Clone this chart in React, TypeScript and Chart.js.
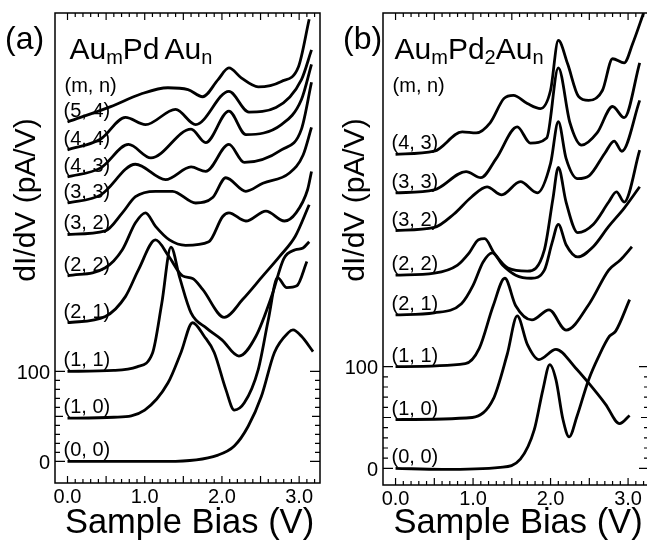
import React, { useEffect, useRef } from "react";
import { Chart, registerables } from "chart.js";
Chart.register(...registerables);

// ---------- Panel (a): Au_m Pd Au_n ----------
const a00V = [0, 0.6, 1.3, 1.95, 2.16, 2.34, 2.51, 2.68, 2.86, 2.92, 3.03, 3.18];
const a00Y = [0, 0, 0, 7, 17, 39, 72, 121, 143, 146, 139, 122];
const a10V = [0, 0.6, 1.0, 1.3, 1.47, 1.62, 1.77, 1.9, 2.05, 2.16, 2.29, 2.47, 2.6, 2.72, 2.84, 2.97, 3.1];
const a10Y = [48, 49, 57, 87, 121, 154, 139, 121, 80, 57, 65, 102, 157, 204, 193, 195, 222];
const a11V = [0, 0.6, 0.9, 1.1, 1.22, 1.34, 1.45, 1.6, 1.8, 2.0, 2.22, 2.44, 2.65, 2.8, 2.95, 3.05, 3.13];
const a11Y = [100, 101, 105, 120, 175, 238, 205, 165, 148, 135, 117, 139, 185, 225, 235, 237, 244];
const a21V = [0, 0.49, 0.75, 0.92, 1.14, 1.31, 1.49, 1.62, 1.75, 2.03, 2.27, 2.53, 2.75, 2.95, 3.13];
const a21Y = [154, 161, 183, 213, 246, 228, 206, 203, 191, 160, 180, 206, 228, 250, 285];
const a22V = [0, 0.49, 0.71, 0.88, 1.01, 1.14, 1.32, 1.53, 1.83, 2.01, 2.09, 2.31, 2.57, 2.81, 2.96, 3.11, 3.16];
const a22Y = [206, 215, 235, 265, 276, 261, 246, 240, 244, 272, 276, 267, 278, 267, 276, 302, 322];
const a32V = [0, 0.49, 0.71, 0.88, 1.14, 1.36, 1.66, 1.88, 2.05, 2.31, 2.53, 2.87, 3.05, 3.16];
const a32Y = [252, 256, 276, 294, 300, 300, 287, 293, 315, 300, 309, 320, 340, 371];
const a33V = [0, 0.43, 0.88, 1.27, 1.6, 1.79, 2.09, 2.29, 2.77, 3.03, 3.16];
const a33Y = [287, 296, 330, 313, 327, 322, 352, 332, 346, 369, 421];
const a43V = [0, 0.43, 0.79, 1.08, 1.6, 1.79, 2.09, 2.31, 2.77, 3.03, 3.16];
const a43Y = [316, 326, 352, 337, 369, 354, 389, 363, 374, 402, 441];
const a44V = [0, 0.43, 0.75, 1.01, 1.4, 1.66, 2.09, 2.35, 2.7, 3.03, 3.16];
const a44Y = [346, 358, 382, 374, 391, 374, 411, 388, 393, 424, 457];
const a54V = [0, 0.56, 0.95, 1.3, 1.56, 1.75, 1.95, 2.09, 2.25, 2.47, 2.77, 2.99, 3.13];
const a54Y = [377, 394, 408, 415, 413, 405, 424, 437, 426, 416, 422, 438, 491];
const labelsA = ["(0, 0)", "(1, 0)", "(1, 1)", "(2, 1)", "(2, 2)", "(3, 2)", "(3, 3)", "(4, 3)", "(4, 4)", "(5, 4)"];

// ---------- Panel (b): Au_m Pd2 Au_n ----------
const b00V = [0, 0.6, 1.35, 1.61, 1.79, 1.9, 1.99, 2.07, 2.16, 2.24, 2.34, 2.49, 2.62, 2.76, 2.84, 3.02];
const b00Y = [0, -1, 1, 9, 38, 77, 102, 87, 48, 31, 51, 87, 110, 130, 135, 166];
const b10V = [0, 0.99, 1.26, 1.44, 1.57, 1.7, 1.85, 2.07, 2.32, 2.49, 2.71, 2.89, 3.02];
const b10Y = [48, 50, 68, 112, 150, 122, 107, 117, 99, 84, 63, 44, 52];
const b11V = [0, 0.9, 1.08, 1.26, 1.41, 1.55, 1.76, 1.98, 2.2, 2.5, 2.75, 2.9, 3.05];
const b11Y = [100, 103, 118, 160, 187, 160, 146, 156, 136, 162, 195, 205, 218];
const b21V = [0, 0.5, 0.85, 1.0, 1.13, 1.25, 1.38, 1.55, 1.75, 1.92, 2.02, 2.1, 2.2, 2.35, 2.55, 2.75, 2.95, 3.15];
const b21Y = [151, 153, 162, 180, 203, 212, 200, 190, 187, 195, 222, 240, 220, 208, 218, 238, 256, 277];
const b22V = [0, 0.5, 0.8, 0.95, 1.07, 1.15, 1.27, 1.45, 1.7, 1.92, 2.03, 2.1, 2.2, 2.35, 2.55, 2.75, 2.85, 2.95, 3.15];
const b22Y = [190, 192, 200, 212, 225, 226, 212, 197, 194, 215, 265, 296, 262, 232, 240, 262, 272, 262, 313];
const b32V = [0, 0.5, 0.75, 0.98, 1.18, 1.37, 1.61, 1.83, 2.0, 2.1, 2.2, 2.35, 2.5, 2.7, 2.82, 2.92, 3.15];
const b32Y = [234, 237, 250, 267, 277, 269, 282, 271, 300, 341, 305, 285, 288, 310, 322, 312, 362];
const b33V = [0, 0.5, 0.91, 1.1, 1.3, 1.57, 1.74, 1.95, 2.1, 2.25, 2.4, 2.6, 2.8, 2.95, 3.15];
const b33Y = [271, 274, 292, 286, 305, 336, 320, 325, 394, 340, 318, 330, 356, 345, 399];
const b43V = [0, 0.5, 0.86, 1.04, 1.22, 1.4, 1.52, 1.7, 1.87, 2.0, 2.1, 2.22, 2.36, 2.49, 2.67, 2.8, 2.95, 3.06, 3.2];
const b43Y = [309, 312, 331, 330, 340, 364, 367, 359, 354, 372, 421, 398, 366, 362, 372, 403, 399, 418, 448];
const labelsB = ["(0, 0)", "(1, 0)", "(1, 1)", "(2, 1)", "(2, 2)", "(3, 2)", "(3, 3)", "(4, 3)"];

const xTickVals = [0, 1, 2, 3];
const yTickVals = [0, 100];

const FONT = '"Liberation Sans", Arial, Helvetica, sans-serif';

function pts(v: number[], y: number[]) {
  return v.map((x, i) => ({ x, y: y[i] }));
}

const decor = {
  id: "decor",
  afterDraw(chart: any, _a: any, opts: any) {
    const ctx = chart.ctx as CanvasRenderingContext2D;
    const { left, right, top, bottom } = chart.chartArea;
    const xs = chart.scales.x;
    const ys = chart.scales.y;
    ctx.save();
    ctx.strokeStyle = "#000";
    ctx.fillStyle = "#000";
    ctx.lineWidth = 1.5;
    ctx.strokeRect(left, top, right - left, bottom - top);
    ctx.lineWidth = 1.2;
    ctx.beginPath();
    for (let i = 0; i <= 34; i++) {
      const px = xs.getPixelForValue(i / 10);
      if (px > right - 1 || px < left + 1) continue;
      const len = i % 5 === 0 ? 7 : 4;
      ctx.moveTo(px, bottom);
      ctx.lineTo(px, bottom - len);
      ctx.moveTo(px, top);
      ctx.lineTo(px, top + len);
    }
    for (let i = 0; i <= 10; i++) {
      const py = ys.getPixelForValue(i * 10);
      const len = i % 10 === 0 ? 10 : i === 5 ? 8 : 5;
      ctx.moveTo(left, py);
      ctx.lineTo(left + len, py);
      ctx.moveTo(right, py);
      ctx.lineTo(right - len, py);
    }
    ctx.stroke();

    // tick labels
    ctx.font = `20px ${FONT}`;
    ctx.textAlign = "center";
    ctx.textBaseline = "alphabetic";
    for (const v of xTickVals) {
      ctx.fillText(v.toFixed(1), xs.getPixelForValue(v), bottom + 20);
    }
    ctx.textAlign = "right";
    ctx.textBaseline = "middle";
    for (const v of yTickVals) {
      ctx.fillText(String(v), left - 5, ys.getPixelForValue(v) + 2);
    }

    // series labels
    ctx.textAlign = "left";
    ctx.textBaseline = "alphabetic";
    chart.data.datasets.forEach((ds: any) => {
      const p0 = ds.data[0];
      ctx.fillText(ds.label, xs.getPixelForValue(p0.x) - 4, ys.getPixelForValue(p0.y) - 5);
    });
    ctx.fillText("(m, n)", xs.getPixelForValue(0) - 3, top + 79);

    // panel letter
    ctx.font = `32px ${FONT}`;
    ctx.textAlign = "left";
    ctx.fillText(opts.letter, opts.letterX, 49);

    // compound title
    let x = xs.getPixelForValue(0) + opts.titleDx;
    const base = 59;
    for (const part of opts.title) {
      ctx.font = part.sub ? `20px ${FONT}` : `30px ${FONT}`;
      ctx.fillText(part.t, x, part.sub ? base + 5 : base);
      x += ctx.measureText(part.t).width + (part.gap || 0);
    }

    // x title
    ctx.font = `34.5px ${FONT}`;
    ctx.textAlign = "center";
    ctx.fillText("Sample Bias (V)", (left + right) / 2 + 2, 533);

    // y title
    ctx.save();
    ctx.translate(opts.yTitleX, 200);
    ctx.rotate(-Math.PI / 2);
    ctx.font = `30px ${FONT}`;
    ctx.textAlign = "center";
    ctx.textBaseline = "alphabetic";
    ctx.fillText("dI/dV (pA/V)", 0, 0);
    ctx.restore();
    ctx.restore();
  },
};

function PanelChart(props: {
  series: { v: number[]; y: number[] }[];
  labels: string[];
  yMin: number;
  yMax: number;
  letter: string;
  letterX: number;
  title: { t: string; sub: boolean; gap?: number }[];
  titleDx: number;
  padding: { left: number; right: number; top: number; bottom: number };
  yTitleX: number;
  width: number;
  left: number;
}) {
  const ref = useRef<HTMLCanvasElement>(null);
  useEffect(() => {
    if (!ref.current) return;
    const chart = new Chart(ref.current, {
      type: "line",
      data: {
        datasets: props.series.map((s, i) => ({
          label: props.labels[i],
          data: pts(s.v, s.y),
          borderColor: "#000",
          borderWidth: 2.8,
          pointRadius: 0,
          fill: false,
          cubicInterpolationMode: "monotone" as const,
        })),
      },
      options: {
        animation: false,
        responsive: false,
        maintainAspectRatio: false,
        layout: { padding: props.padding },
        plugins: {
          legend: { display: false },
          tooltip: { enabled: false },
          decor: {
            letter: props.letter,
            letterX: props.letterX,
            title: props.title,
            titleDx: props.titleDx,
            yTitleX: props.yTitleX,
          },
        } as any,
        scales: {
          x: { type: "linear", min: -0.162, max: 3.27, display: false },
          y: { type: "linear", min: props.yMin, max: props.yMax, display: false },
        },
      },
      plugins: [decor],
    });
    return () => chart.destroy();
  }, []);
  return (
    <canvas
      ref={ref}
      width={props.width}
      height={541}
      style={{ position: "absolute", left: props.left, top: 0, width: props.width, height: 541 }}
    />
  );
}

export default function App() {
  const seriesA = [
    { v: a00V, y: a00Y }, { v: a10V, y: a10Y }, { v: a11V, y: a11Y }, { v: a21V, y: a21Y },
    { v: a22V, y: a22Y }, { v: a32V, y: a32Y }, { v: a33V, y: a33Y }, { v: a43V, y: a43Y },
    { v: a44V, y: a44Y }, { v: a54V, y: a54Y },
  ];
  const seriesB = [
    { v: b00V, y: b00Y }, { v: b10V, y: b10Y }, { v: b11V, y: b11Y }, { v: b21V, y: b21Y },
    { v: b22V, y: b22Y }, { v: b32V, y: b32Y }, { v: b33V, y: b33Y }, { v: b43V, y: b43Y },
  ];
  return (
    <div style={{ position: "fixed", left: 0, top: 0, width: 647, height: 541, overflow: "hidden", background: "#fff" }}>
      <PanelChart
        series={seriesA}
        labels={labelsA}
        yMin={-24}
        yMax={498}
        letter="(a)"
        letterX={5}
        title={[
          { t: "Au", sub: false }, { t: "m", sub: true }, { t: "Pd", sub: false, gap: 5 },
          { t: "Au", sub: false }, { t: "n", sub: true },
        ]}
        titleDx={2}
        padding={{ left: 55, right: 3, top: 13, bottom: 58 }}
        yTitleX={35}
        width={323}
        left={0}
      />
      <PanelChart
        series={seriesB}
        labels={labelsB}
        yMin={-16.4}
        yMax={448}
        letter="(b)"
        letterX={20}
        title={[
          { t: "Au", sub: false }, { t: "m", sub: true }, { t: "Pd", sub: false },
          { t: "2", sub: true }, { t: "Au", sub: false }, { t: "n", sub: true },
        ]}
        titleDx={-1}
        padding={{ left: 60, right: 4, top: 13, bottom: 56 }}
        yTitleX={41}
        width={330}
        left={323}
      />
    </div>
  );
}
